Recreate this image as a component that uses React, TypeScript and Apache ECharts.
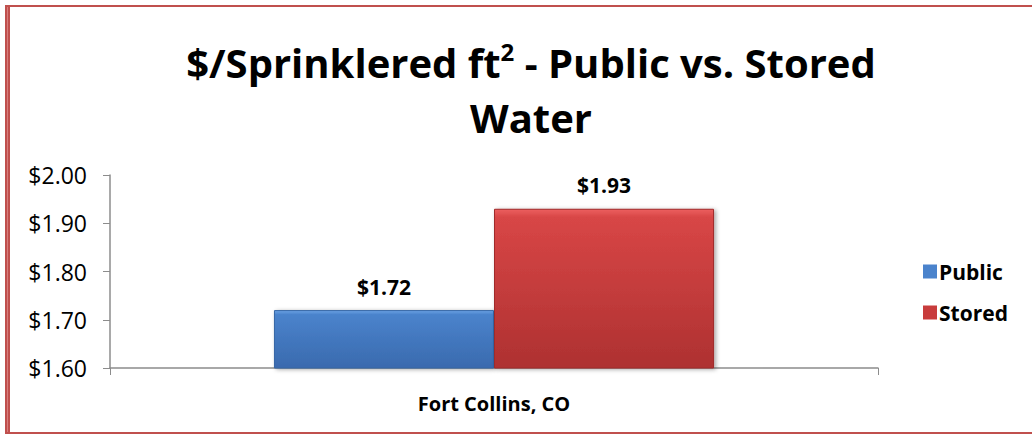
import React, { useEffect, useRef } from "react";
import * as echarts from "echarts";

const categories = ["Fort Collins, CO"];
const publicValues = [1.72];
const storedValues = [1.93];
const seriesNames = ["Public", "Stored"];
const yMin = 1.6;
const yMax = 2.0;
const yInterval = 0.1;

const FONT = "'Open Sans', 'Noto Sans', sans-serif";

export default function App() {
  const ref = useRef<HTMLDivElement>(null);
  useEffect(() => {
    if (!ref.current) return;
    const chart = echarts.init(ref.current, undefined, { renderer: "svg" });
    const blue = new echarts.graphic.LinearGradient(0, 0, 0, 1, [
      { offset: 0, color: "#6AA3E4" },
      { offset: 0.07, color: "#4A83CC" },
      { offset: 1, color: "#3A6AAE" },
    ]);
    const red = new echarts.graphic.LinearGradient(0, 0, 0, 1, [
      { offset: 0, color: "#EC6060" },
      { offset: 0.05, color: "#D84646" },
      { offset: 1, color: "#AE3131" },
    ]);
    const labelStyle = {
      show: true,
      position: "top",
      distance: 13,
      fontFamily: FONT,
      fontWeight: "bold",
      fontSize: 21,
      color: "#000",
      formatter: (p: any) => "$" + Number(p.value).toFixed(2),
    };
    chart.setOption({
      animation: false,
      backgroundColor: "#fff",
      title: {
        left: 526,
        textAlign: "center",
        top: 30,
        text: "{a|$/Sprinklered ft}{s|2}{a| - Public vs. Stored}\n{a|Water}",
        textStyle: {
          rich: {
            a: { fontFamily: FONT, fontWeight: "bold", fontSize: 40, lineHeight: 55, color: "#000" },
            s: { fontFamily: FONT, fontWeight: "bold", fontSize: 24, lineHeight: 55, color: "#000", verticalAlign: "top", padding: [4, 0, 0, 0] },
          },
        },
      },
      legend: {
        orient: "vertical",
        left: 918,
        top: 256,
        itemWidth: 14,
        itemHeight: 14,
        itemGap: 20,
        itemStyle: { borderWidth: 0 },
        textStyle: { fontFamily: FONT, fontWeight: "bold", fontSize: 21, color: "#000", padding: [0, 0, 0, -3] },
        data: [
          { name: seriesNames[0], icon: "rect", itemStyle: { color: "#4A83CC" } },
          { name: seriesNames[1], icon: "rect", itemStyle: { color: "#C83C3C" } },
        ],
      },
      grid: { left: 110, right: 154, top: 175, bottom: 66, containLabel: false },
      xAxis: {
        type: "category",
        data: categories,
        axisLine: { lineStyle: { color: "#8c8c8c", width: 1.5 } },
        axisTick: { show: true, length: 7, lineStyle: { color: "#8c8c8c" } },
        axisLabel: { fontFamily: FONT, fontWeight: "bold", fontSize: 20, color: "#000", margin: 25 },
      },
      yAxis: {
        type: "value",
        min: yMin,
        max: yMax,
        interval: yInterval,
        splitLine: { show: false },
        axisLine: { show: true, lineStyle: { color: "#8c8c8c", width: 1.5 } },
        axisTick: { show: true, length: 7, lineStyle: { color: "#8c8c8c" } },
        axisLabel: {
          fontFamily: FONT,
          fontSize: 23,
          color: "#000",
          margin: 23,
          formatter: (v: number) => "$" + v.toFixed(2),
        },
      },
      series: [
        {
          name: seriesNames[0],
          type: "bar",
          data: publicValues,
          barGap: "0%",
          barCategoryGap: "42.7%",
          itemStyle: { color: blue, borderColor: "#3565A5", borderWidth: 1, shadowColor: "rgba(0,0,0,0.35)", shadowBlur: 4, shadowOffsetX: 2, shadowOffsetY: 1 },
          label: labelStyle,
        },
        {
          name: seriesNames[1],
          type: "bar",
          data: storedValues,
          barGap: "0%",
          barCategoryGap: "42.7%",
          itemStyle: { color: red, borderColor: "#A02C2C", borderWidth: 1, shadowColor: "rgba(0,0,0,0.35)", shadowBlur: 4, shadowOffsetX: 2, shadowOffsetY: 1 },
          label: labelStyle,
        },
      ],
      graphic: [
        { type: "rect", shape: { x: 5, y: 5, width: 1027, height: 2 }, style: { fill: "#C0504D" }, z: 100 },
        { type: "rect", shape: { x: 5, y: 5, width: 5, height: 429 }, style: { fill: "#C0504D" }, z: 100 },
        { type: "rect", shape: { x: 7, y: 7, width: 1, height: 425 }, style: { fill: "#D77F7D" }, z: 101 },
        { type: "rect", shape: { x: 5, y: 432, width: 1027, height: 2 }, style: { fill: "#C0504D" }, z: 100 },
      ],
    });
    return () => chart.dispose();
  }, []);
  return <div ref={ref} style={{ position: "fixed", left: 0, top: 0, width: 1032, height: 434 }} />;
}
